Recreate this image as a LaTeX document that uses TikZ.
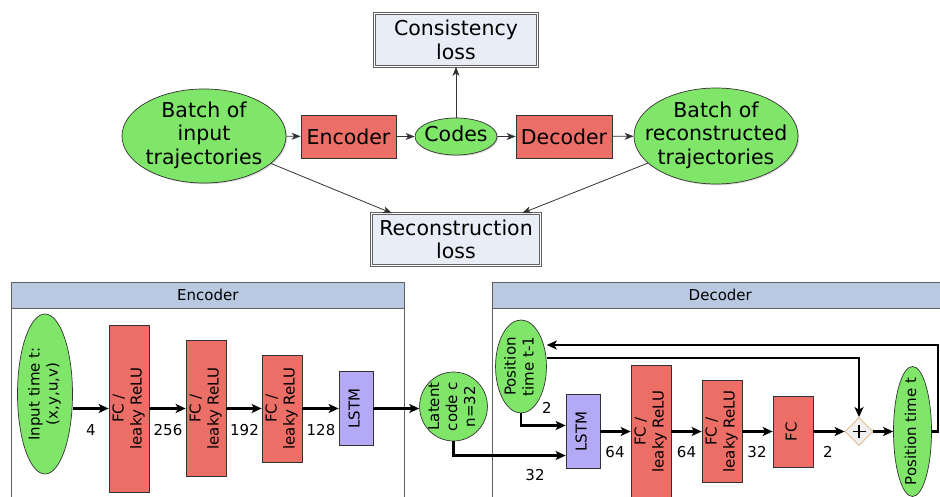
\documentclass[tikz,border=0pt]{standalone}
\usepackage{fontspec}
\setmainfont{DejaVu Sans}
\usetikzlibrary{shapes.geometric,arrows.meta,shadows}

\definecolor{nodegreen}{HTML}{80E66A}
\definecolor{layerred}{HTML}{EC6F67}
\definecolor{lstmpurple}{HTML}{B4A9F5}
\definecolor{hdrblue}{HTML}{B9C9E2}
\definecolor{lossfill}{HTML}{E8EDF7}
\definecolor{edgegray}{HTML}{333333}
\definecolor{plustan}{HTML}{DDB47A}

\newcommand{\toptext}{\fontsize{20.5}{23.5}\selectfont}
\newcommand{\bottext}{\fontsize{15}{18}\selectfont}
% text with no width, so the ellipse keeps its size
\newcommand{\ctext}[1]{\makebox[0pt]{\begin{tabular}{@{}c@{}}#1\end{tabular}}}
% rotated text, read from bottom to top
\newcommand{\vtxt}[1]{\rotatebox{90}{\makebox[0pt]{\begin{tabular}{@{}c@{}}#1\end{tabular}}}}

\begin{document}
\begin{tikzpicture}
    [x=1pt,y=-1pt,
     shade/.style={drop shadow={shadow xshift=1.2pt, shadow yshift=-1.2pt, opacity=.3}},
     topell/.style={ellipse, draw=edgegray, line width=0.7pt, fill=nodegreen, inner sep=0pt, font=\toptext, shade},
     topbox/.style={rectangle, draw=edgegray, line width=0.7pt, fill=layerred, inner sep=0pt, font=\toptext, shade},
     lossbox/.style={rectangle, draw=gray!75!black, double=white, double distance=1.2pt, line width=0.7pt, fill=lossfill, align=center, inner sep=0pt, font=\toptext, shade},
     ell/.style={ellipse, draw=edgegray, line width=0.7pt, fill=nodegreen, inner sep=0pt, font=\bottext},
     layerbox/.style={rectangle, draw=edgegray, line width=0.7pt, fill=layerred, inner sep=0pt, minimum width=40, font=\bottext},
     lstmbox/.style={rectangle, draw=edgegray, line width=0.7pt, fill=lstmpurple, inner sep=0pt, minimum width=34, minimum height=74, font=\bottext},
     plusd/.style={diamond, draw=plustan, line width=0.8pt, fill=gray!12, inner sep=0pt, minimum width=28, minimum height=28,
       path picture={\draw[draw=black, line width=1.7pt] ([xshift=-6.5pt]path picture bounding box.center) -- ([xshift=6.5pt]path picture bounding box.center)
                                             ([yshift=-6.5pt]path picture bounding box.center) -- ([yshift=6.5pt]path picture bounding box.center);}},
     hdr/.style={rectangle, draw=gray!75!black, fill=hdrblue, line width=0.6pt, anchor=north west, minimum height=26, inner sep=0pt, font=\bottext},
     panel/.style={draw=gray!75!black, line width=0.6pt},
     num/.style={inner sep=0pt, font=\bottext},
     toparrow/.style={draw=edgegray, line width=0.8pt, -{Stealth[length=9pt,width=7pt,inset=2.5pt]}},
     flow/.style={draw=black, line width=2.2pt, -{Stealth[length=10pt,width=9pt,inset=2.5pt]}}]
    \clip (0,0) rectangle (940,497);

    % training scheme
    \node[lossbox, minimum width=163, minimum height=53] (cons) at (456,40) {Consistency\\loss};
    \node[topell, minimum width=164, minimum height=94, inner ysep=-2pt] (inbatch) at (204,136) {\ctext{Batch of\\input\\trajectories}};
    \node[topbox, minimum width=95, minimum height=43] (enc) at (348.5,136.5) {Encoder};
    \node[topell, minimum width=82, minimum height=37] (codes) at (456,136.5) {\ctext{Codes}};
    \node[topbox, minimum width=96, minimum height=43] (dec) at (564,136.5) {Decoder};
    \node[topell, minimum width=164, minimum height=96, inner ysep=-2pt] (recbatch) at (716,136) {\ctext{Batch of\\reconstructed\\trajectories}};
    \node[lossbox, minimum width=169, minimum height=52] (recloss) at (456,239.5) {Reconstruction\\loss};

    \foreach \from/\to in {inbatch/enc, enc/codes, codes/dec, dec/recbatch, codes/cons, inbatch/recloss, recbatch/recloss}
      \draw[toparrow] (\from) -- (\to);

    % encoder panel
    \draw[panel] (11,282) rectangle (404,515);
    \node[hdr, minimum width=393] (enchdr) at (11,282) {Encoder};
    \node[ell, minimum width=55, minimum height=160] (inp) at (45,394) {\vtxt{Input time t:\\(x,y,u,v)}};
    \node[layerbox, minimum height=167] (efc1) at (129,408.5) {\vtxt{FC /\\leaky ReLU}};
    \node[layerbox, minimum height=136] (efc2) at (206,408.5) {\vtxt{FC /\\leaky ReLU}};
    \node[layerbox, minimum height=107] (efc3) at (282,408.5) {\vtxt{FC /\\leaky ReLU}};
    \node[lstmbox] (elstm) at (356,408.5) {\vtxt{LSTM}};
    \node[ell, minimum width=67, minimum height=69, inner xsep=-3pt] (latent) at (453.5,406.5) {\vtxt{Latent\\code c\\n=32}};

    \node[num] (n4) at (91,430) {4};
    \node[num] (n256) at (168,430) {256};
    \node[num] (n192) at (244.5,430) {192};
    \node[num] (n128) at (321,430) {128};

    % decoder panel
    \draw[panel] (492,282) rectangle (948,515);
    \node[hdr, minimum width=456] (dechdr) at (492,282) {Decoder};
    \node[ell, minimum width=46, minimum height=93] (pos1) at (521,366.5) {\vtxt{Position\\time t-1}};
    \node[lstmbox] (dlstm) at (583,431.5) {\vtxt{LSTM}};
    \node[layerbox, minimum height=132] (dfc1) at (651,431.5) {\vtxt{FC /\\leaky ReLU}};
    \node[layerbox, minimum height=102] (dfc2) at (722,431.5) {\vtxt{FC /\\leaky ReLU}};
    \node[layerbox, minimum height=71] (dfc3) at (793,431.5) {\vtxt{FC}};
    \node[plusd] (plus) at (859,431.5) {};
    \node[ell, minimum width=38, minimum height=130] (post) at (912.5,431.5) {\vtxt{Position time t}};
    \coordinate (fb) at (938,345);

    \node[num] (n2a) at (547,408) {2};
    \node[num] (n32a) at (535,475) {32};
    \node[num] (n64a) at (615,452) {64};
    \node[num] (n64b) at (686.5,452) {64};
    \node[num] (n32b) at (757,452) {32};
    \node[num] (n2b) at (828,452) {2};

    \draw[flow] (inp.east |- efc1.west) -- (efc1.west);
    \foreach \from/\to in {efc1/efc2, efc2/efc3, efc3/elstm, dlstm/dfc1, dfc1/dfc2, dfc2/dfc3, dfc3/plus, plus/post}
      \draw[flow] (\from) -- (\to);
    \draw[flow] (elstm.east) -- (elstm.east -| latent.west);
    \draw[flow] (latent.south) |- ([yshift=-24pt]dlstm.west);
    \draw[flow] (pos1.south) |- ([yshift=6pt]dlstm.west);
    \draw[flow] ([yshift=8.5pt]pos1.east) -| (plus.north);
    \draw[flow] (post.east) -| (fb) -- (fb -| pos1.east);
\end{tikzpicture}
\end{document}
